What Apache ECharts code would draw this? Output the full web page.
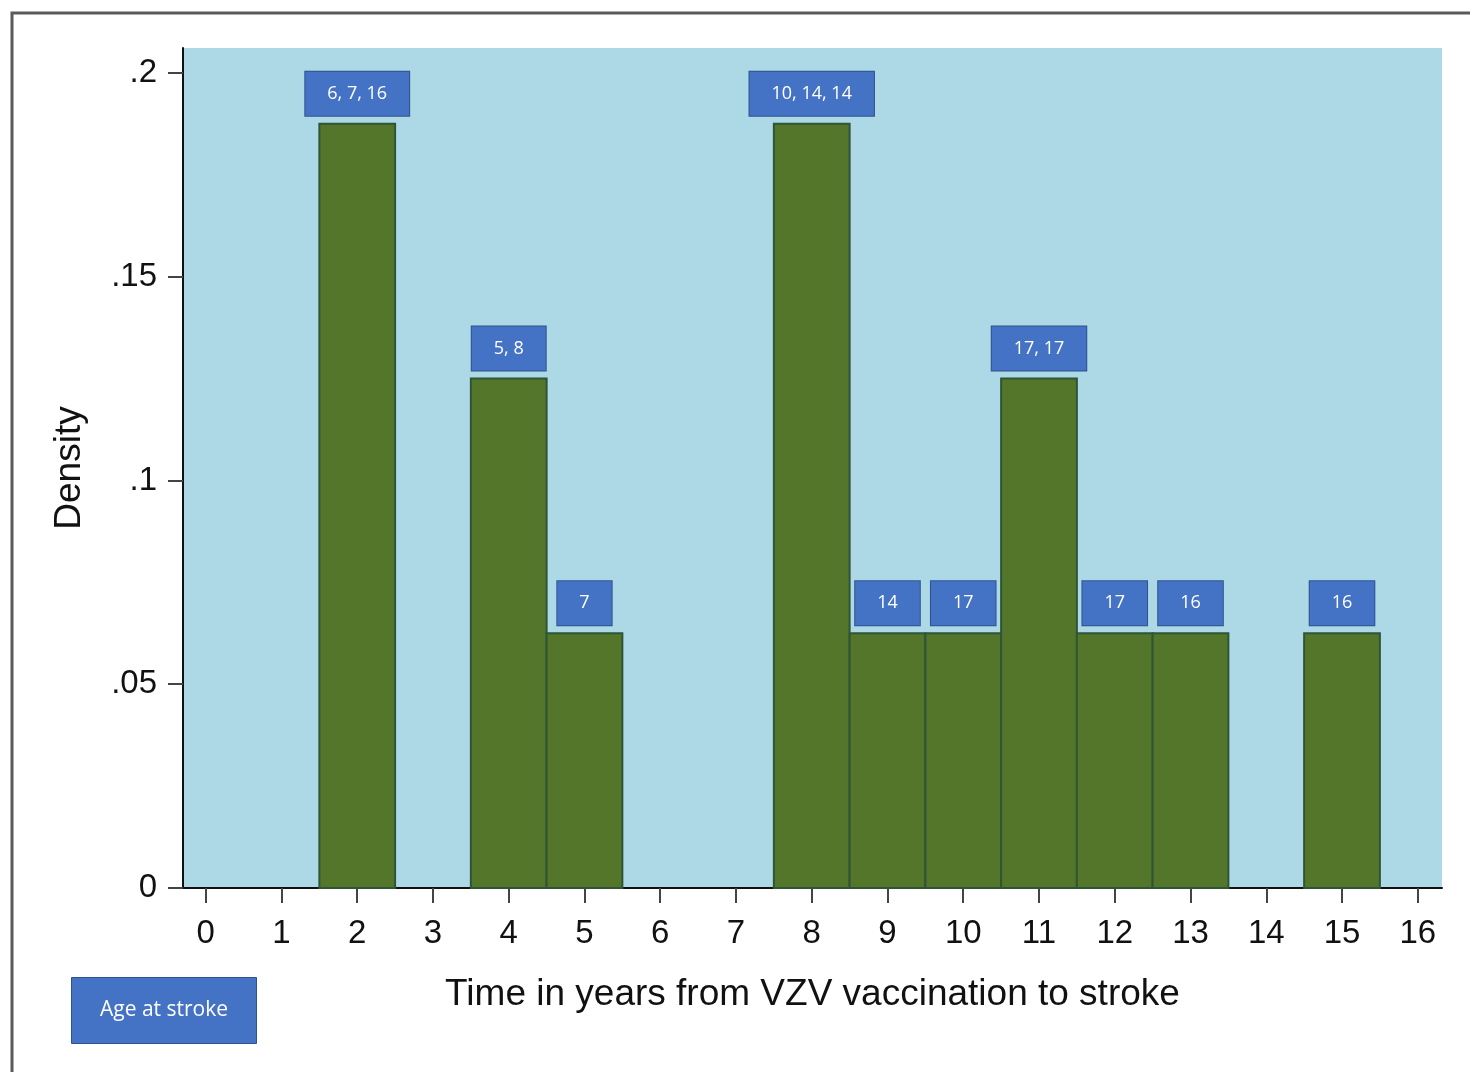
<!DOCTYPE html>
<html>
<head>
<meta charset="utf-8">
<script src="https://cdn.jsdelivr.net/npm/echarts@6/dist/echarts.min.js"></script>
<style>
  html, body { margin: 0; padding: 0; background: #fff; }
  #chart { width: 1470px; height: 1072px; }
</style>
</head>
<body>
<div id="chart"></div>
<script>
// histogram bins (year from vaccination) and density
var years = [2, 4, 5, 8, 9, 10, 11, 12, 13, 15];
var density = [0.1875, 0.125, 0.0625, 0.1875, 0.0625, 0.0625, 0.125, 0.0625, 0.0625, 0.0625];
// age at stroke shown above each bar
var ages = ["6, 7, 16", "5, 8", "7", "10, 14, 14", "14", "17", "17, 17", "17", "16", "16"];
var xTicks = [0, 1, 2, 3, 4, 5, 6, 7, 8, 9, 10, 11, 12, 13, 14, 15, 16];
var yTicks = [0, 0.05, 0.1, 0.15, 0.2];

var chart = echarts.init(document.getElementById("chart"));

var data = years.map(function (x, i) {
  return [x, density[i], ages[i]];
});

var option = {
  animation: false,
  backgroundColor: "#fff",
  title: {
    text: "Age at stroke",
    left: 71,
    top: 977,
    padding: [23, 29],
    backgroundColor: "#4472c4",
    borderColor: "#2f528f",
    borderWidth: 1,
    textStyle: {
      color: "#fff",
      fontFamily: "Open Sans",
      fontSize: 21,
      fontWeight: "normal"
    }
  },
  graphic: [
    {
      type: "polyline",
      shape: { points: [[12, 1072], [12, 13], [1470, 13]] },
      style: { stroke: "#5a5a5a", lineWidth: 3, fill: null },
      silent: true
    }
  ],
  grid: {
    left: 183,
    top: 48,
    right: 28,
    bottom: 184,
    show: true,
    backgroundColor: "#add8e6",
    borderWidth: 0
  },
  xAxis: {
    type: "value",
    min: -0.3,
    max: 16.32,
    name: "Time in years from VZV vaccination to stroke",
    nameLocation: "middle",
    nameGap: 88,
    nameTextStyle: { fontFamily: "Liberation Sans", fontSize: 37, color: "#111" },
    splitLine: { show: false },
    axisLine: { show: true, onZero: false, lineStyle: { color: "#111", width: 2 } },
    axisTick: { show: true, length: 15, customValues: xTicks, lineStyle: { color: "#444", width: 2 } },
    axisLabel: {
      customValues: xTicks,
      margin: 29,
      fontFamily: "Liberation Sans",
      fontSize: 33,
      color: "#111"
    }
  },
  yAxis: {
    type: "value",
    min: 0,
    max: 0.2061,
    name: "Density",
    nameLocation: "middle",
    nameGap: 95,
    nameTextStyle: { fontFamily: "Liberation Sans", fontSize: 37, color: "#111" },
    splitLine: { show: false },
    axisLine: { show: true, onZero: false, lineStyle: { color: "#111", width: 2 } },
    axisTick: { show: true, length: 15, customValues: yTicks, lineStyle: { color: "#444", width: 2 } },
    axisLabel: {
      customValues: yTicks,
      margin: 26,
      fontFamily: "Liberation Sans",
      fontSize: 33,
      color: "#111",
      formatter: function (v) {
        if (v === 0) return "0";
        return String(+v.toFixed(2)).replace(/^0/, "");
      }
    }
  },
  series: [
    {
      type: "custom",
      data: data,
      renderItem: function (params, api) {
        var x = api.value(0);
        var y = api.value(1);
        var p0 = api.coord([x - 0.5, y]);
        var p1 = api.coord([x + 0.5, 0]);
        return {
          type: "rect",
          shape: { x: p0[0], y: p0[1], width: p1[0] - p0[0], height: p1[1] - p0[1] },
          style: { fill: "#54762b", stroke: "#2f5537", lineWidth: 2 },
          textContent: {
            style: {
              text: ages[params.dataIndex],
              fill: "#fff",
              fontFamily: "Open Sans",
              fontSize: 18,
              backgroundColor: "#4472c4",
              borderColor: "#2f528f",
              borderWidth: 1,
              padding: [13, 22]
            }
          },
          textConfig: { position: "top", distance: 7 }
        };
      }
    }
  ]
};

chart.setOption(option);
</script>
</body>
</html>
